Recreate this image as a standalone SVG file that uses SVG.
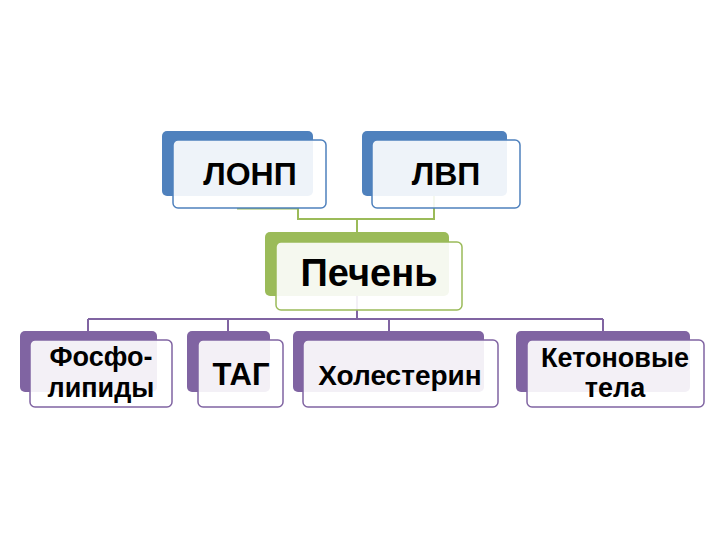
<svg xmlns="http://www.w3.org/2000/svg" width="720" height="540" viewBox="0 0 720 540">
<style>
text{font-family:"Liberation Sans",Arial,sans-serif;font-weight:bold;fill:#000;text-anchor:middle}
.bb{fill:#4f81bd}.fb{fill:#fff;fill-opacity:0.9;stroke:#4f81bd;stroke-width:1.5}
.bg{fill:#9bbb59}.fg{fill:#fff;fill-opacity:0.9;stroke:#9bbb59;stroke-width:1.5}
.bp{fill:#8064a2}.fp{fill:#fff;fill-opacity:0.9;stroke:#8064a2;stroke-width:1.5}
.cg{fill:none;stroke:#9bbb59;stroke-width:2}
.cp{fill:none;stroke:#8064a2;stroke-width:2}
</style>
<rect width="720" height="540" fill="#fff"/>
<g id="connectors">
<path class="cg" d="M237,208.5 H298 V219 H434 V196 M357,219 V232"/>
<path class="cp" d="M357,296 V319 M88,319 H603 M88,319 V331 M228,319 V331 M389,319 V331 M603,319 V331"/>
</g>
<g id="lonp">
<rect class="bb" x="162" y="131" width="151" height="65" rx="5"/>
<rect class="fb" x="173" y="140" width="153" height="68" rx="5"/>
<text x="250" y="185" font-size="32">ЛОНП</text>
</g>
<g id="lvp">
<rect class="bb" x="362" y="131" width="145" height="65" rx="5"/>
<rect class="fb" x="372" y="140" width="148" height="68" rx="5"/>
<text x="446" y="185" font-size="32">ЛВП</text>
</g>
<g id="pechen">
<rect class="bg" x="265" y="232" width="184" height="64" rx="5"/>
<rect class="fg" x="276" y="242" width="186" height="68" rx="5"/>
<text x="369" y="286" font-size="38">Печень</text>
</g>
<g id="fosfolipidy">
<rect class="bp" x="20" y="331" width="137" height="61" rx="5"/>
<rect class="fp" x="30" y="340" width="142" height="67" rx="5"/>
<text x="101" y="366" font-size="27">Фосфо-</text>
<text x="101" y="397" font-size="27">липиды</text>
</g>
<g id="tag">
<rect class="bp" x="187" y="331" width="83" height="61" rx="5"/>
<rect class="fp" x="198" y="340" width="85" height="67" rx="5"/>
<text x="241" y="385" font-size="31">ТАГ</text>
</g>
<g id="holesterin">
<rect class="bp" x="293" y="331" width="191" height="61" rx="5"/>
<rect class="fp" x="303" y="340" width="195" height="67" rx="5"/>
<text x="400" y="385" font-size="28">Холестерин</text>
</g>
<g id="ketonovye">
<rect class="bp" x="516" y="331" width="174" height="61" rx="5"/>
<rect class="fp" x="527" y="340" width="177" height="67" rx="5"/>
<text x="615" y="367" font-size="27">Кетоновые</text>
<text x="615" y="397" font-size="27">тела</text>
</g>
</svg>
